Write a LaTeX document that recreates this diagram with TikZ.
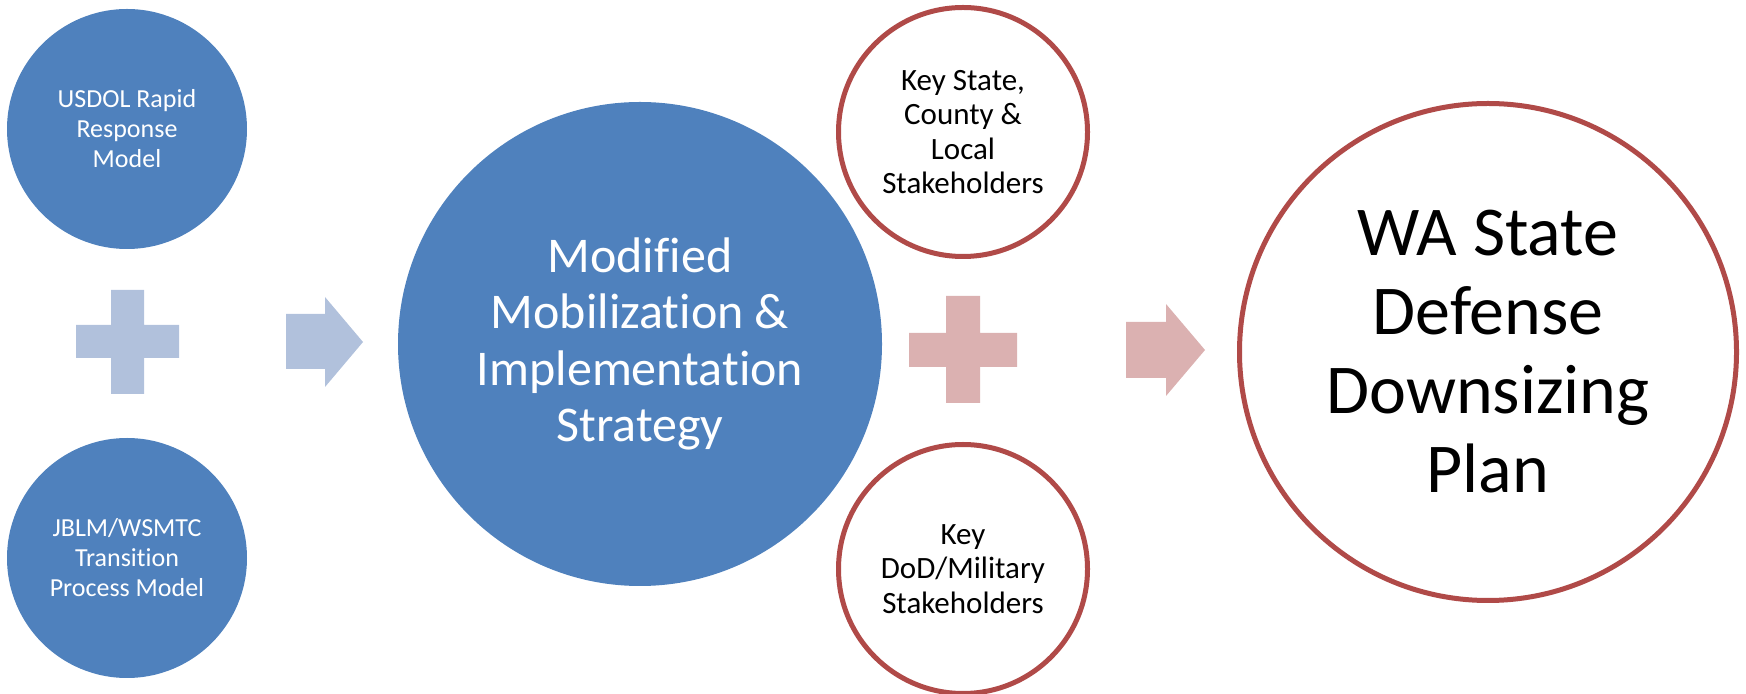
\documentclass[tikz,border=0pt]{standalone}
\usepackage{fontspec}
\setmainfont[Ligatures={NoCommon}]{Carlito}
\definecolor{bluefill}{HTML}{4F81BD}
\definecolor{lightblue}{HTML}{B1C1DC}
\definecolor{redline}{HTML}{B04A48}
\definecolor{lightred}{HTML}{DBB1B1}
\tikzset{
  bluecirc/.style={circle, fill=bluefill, draw=none, text=white, align=center, inner sep=0pt},
  redcirc/.style={circle, fill=white, draw=redline, line width=2.5pt, text=black, align=center, inner sep=0pt},
  smallfont/.style={font=\fontsize{13}{15}\selectfont},
  midfont/.style={font=\fontsize{15.5}{17.3}\selectfont},
  bigfont/.style={font=\fontsize{25}{28.2}\selectfont},
  hugefont/.style={font=\fontsize{35}{39.5}\selectfont},
}
\begin{document}
\begin{tikzpicture}[x=0.5pt,y=-0.5pt]
\useasboundingbox (0,0) rectangle (1746,694);
% left circles
\node[bluecirc, smallfont, minimum size=120pt] (usdol) at (127,129) {USDOL Rapid\\Response\\Model};
\node[bluecirc, smallfont, minimum size=120pt] (jblm) at (127,558) {JBLM/WSMTC\\Transition\\Process Model};
% blue plus
\fill[lightblue] (111,290) -- (144,290) -- (144,325) -- (179,325) -- (179,358) -- (144,358) -- (144,394) -- (111,394) -- (111,358) -- (76,358) -- (76,325) -- (111,325) -- cycle;
% blue arrow
\fill[lightblue] (286,314) -- (325,314) -- (325,297) -- (363,342) -- (325,387) -- (325,369) -- (286,369) -- cycle;
% big blue circle
\node[bluecirc, bigfont, minimum size=242pt] (mod) at (640,344) {Modified\\Mobilization \&\\Implementation\\Strategy};
% red circles
\node[redcirc, midfont, minimum size=124.5pt] (key1) at (963,132) {Key State,\\County \&\\Local\\Stakeholders};
\node[redcirc, midfont, minimum size=124.5pt] (key2) at (963,569) {Key\\DoD/Military\\Stakeholders};
% red plus
\fill[lightred] (946,296) -- (980,296) -- (980,333) -- (1017,333) -- (1017,367) -- (980,367) -- (980,403) -- (946,403) -- (946,367) -- (909,367) -- (909,333) -- (946,333) -- cycle;
% red arrow
\fill[lightred] (1126,322) -- (1166,322) -- (1166,304) -- (1205,350) -- (1166,396) -- (1166,378) -- (1126,378) -- cycle;
% big right circle
\node[redcirc, hugefont, minimum size=248.5pt] (plan) at (1488,352) {WA State\\Defense\\Downsizing\\Plan};
\end{tikzpicture}
\end{document}
